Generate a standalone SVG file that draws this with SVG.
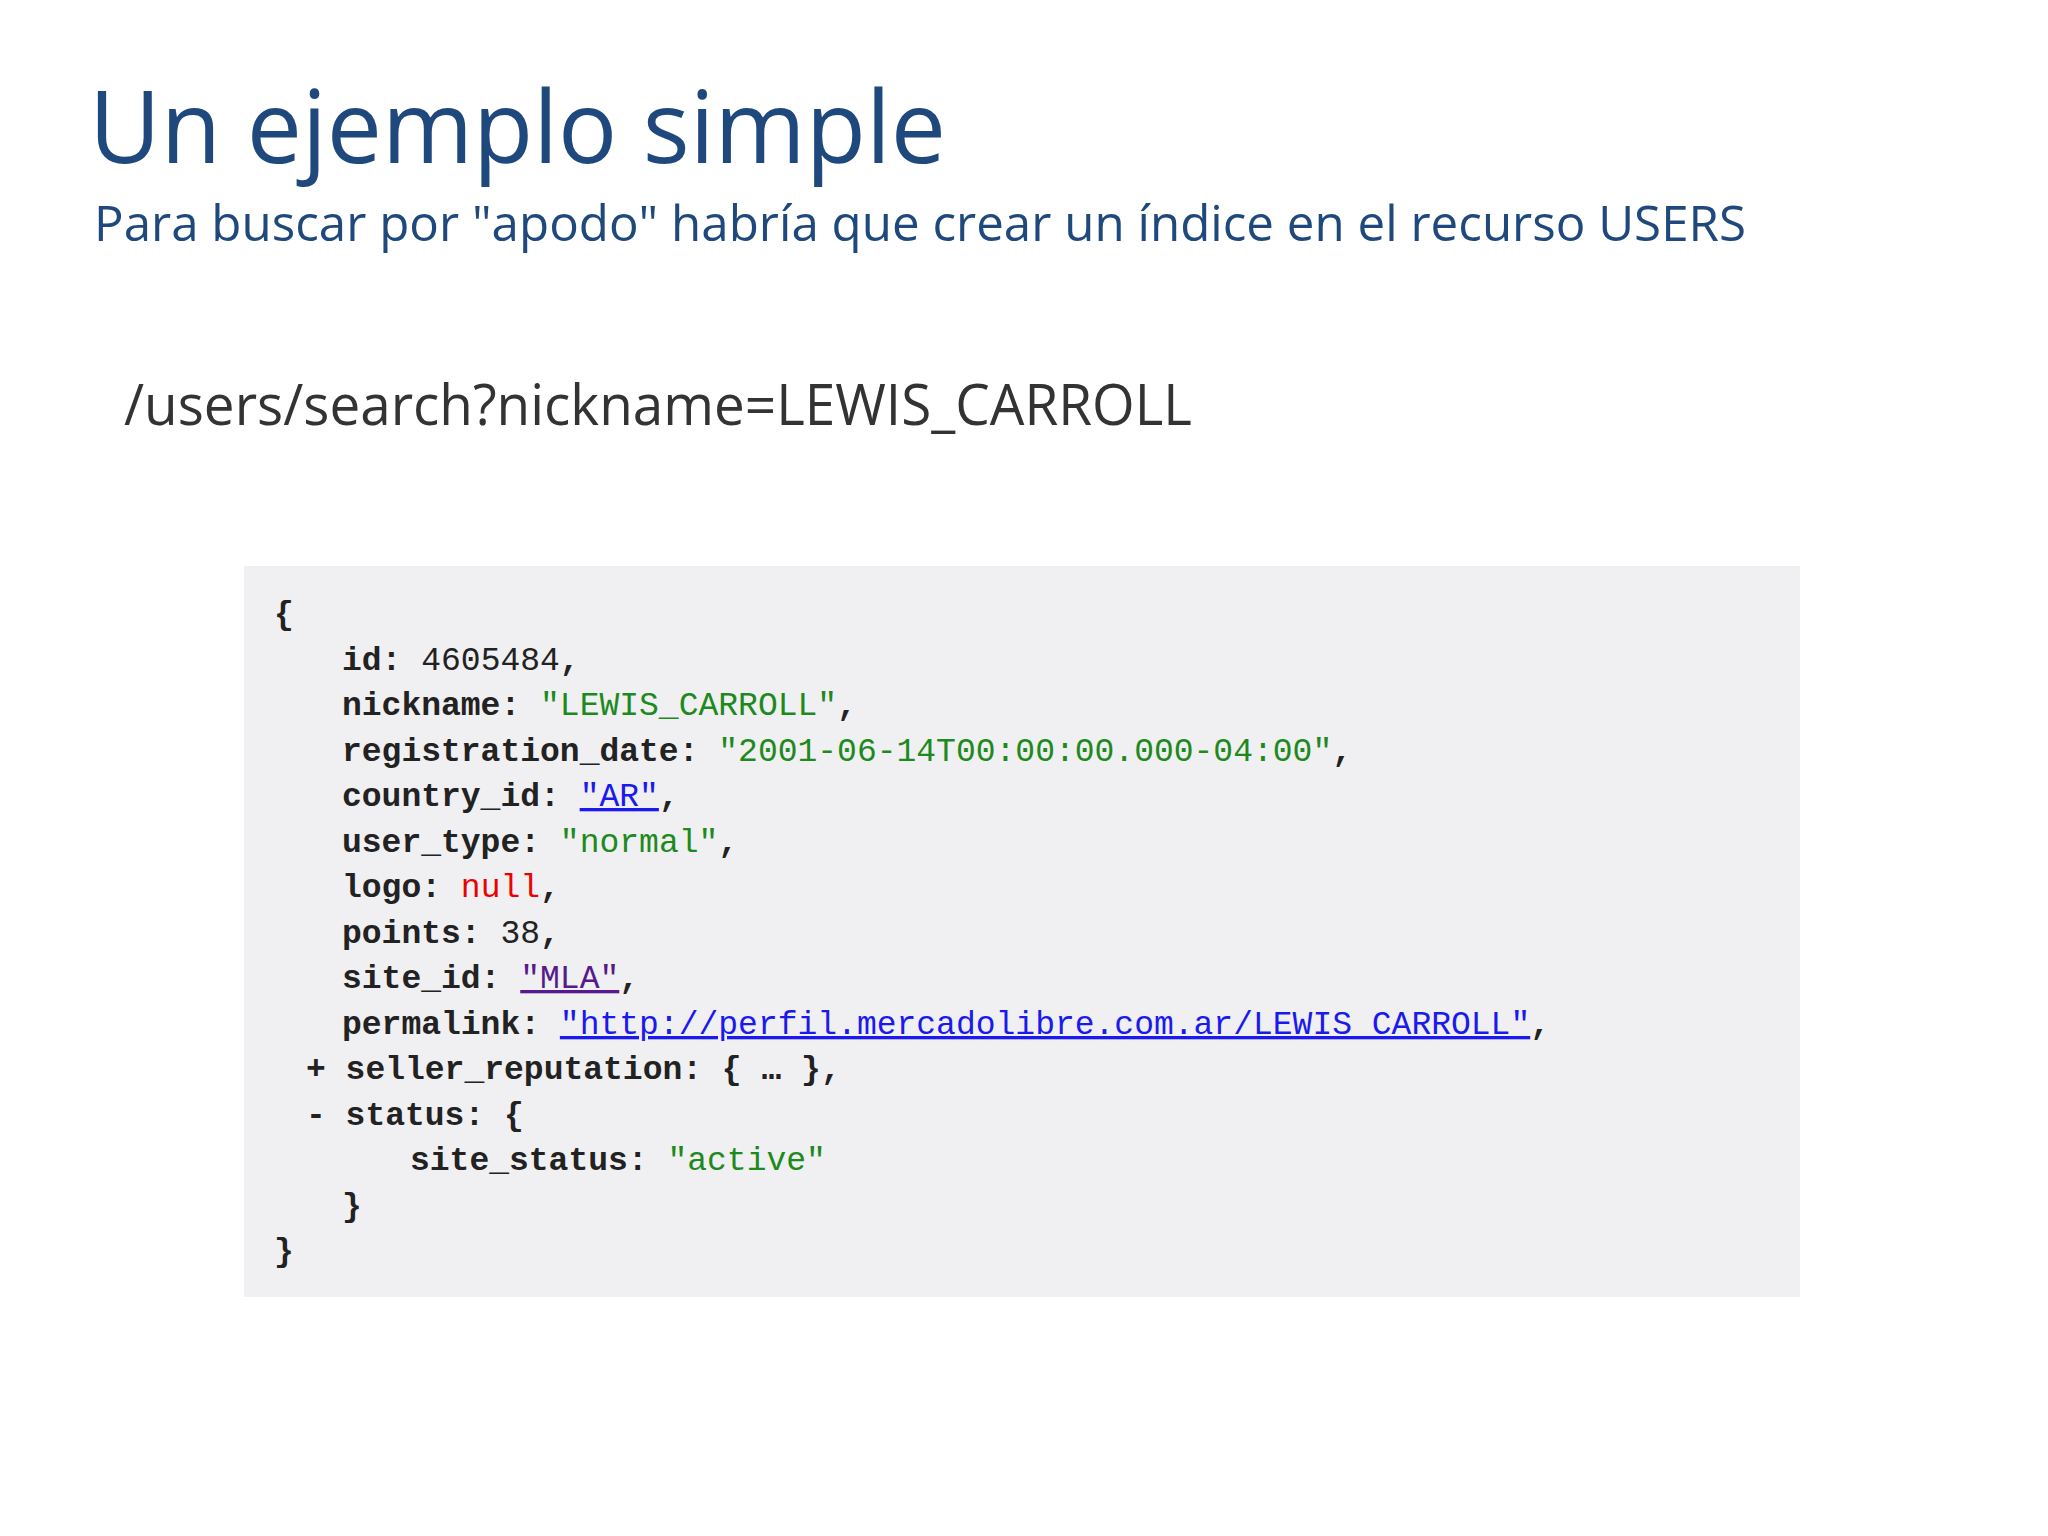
<svg xmlns="http://www.w3.org/2000/svg" width="2048" height="1536" viewBox="0 0 2048 1536">
<style>
.t{font-family:"Open Sans","Liberation Sans",sans-serif;fill:#1f497d}
.c{font-family:"Liberation Mono","DejaVu Sans Mono",monospace;font-size:33px;white-space:pre;fill:#222}
.k{font-weight:bold}
.s{fill:#1c8a1c}
.n{fill:#e00}
.l{fill:#1a1aee;text-decoration:underline}
.v{fill:#551a8b;text-decoration:underline}
</style>
<rect width="2048" height="1536" fill="#fff"/>
<g id="title">
<text class="t" x="89" y="163" font-size="100" textLength="857" lengthAdjust="spacingAndGlyphs">Un ejemplo simple</text>
<text class="t" x="94" y="241" font-size="50" textLength="1652" lengthAdjust="spacingAndGlyphs">Para buscar por "apodo" habría que crear un índice en el recurso USERS</text>
<text class="t" x="124" y="425" font-size="57" fill="#333" style="fill:#333" textLength="1068" lengthAdjust="spacingAndGlyphs">/users/search?nickname=LEWIS_CARROLL</text>
</g>
<g id="code">
<rect x="244" y="566" width="1556" height="731" fill="#f0eff1"/>
<text class="c">
<tspan x="274" y="624" class="k">{</tspan>
<tspan x="342" y="670"><tspan class="k">id:</tspan> 4605484<tspan class="k">,</tspan></tspan>
<tspan x="342" y="715"><tspan class="k">nickname:</tspan> <tspan class="s">"LEWIS_CARROLL"</tspan><tspan class="k">,</tspan></tspan>
<tspan x="342" y="761"><tspan class="k">registration_date:</tspan> <tspan class="s">"2001-06-14T00:00:00.000-04:00"</tspan><tspan class="k">,</tspan></tspan>
<tspan x="342" y="806"><tspan class="k">country_id:</tspan> <tspan class="l">"AR"</tspan><tspan class="k">,</tspan></tspan>
<tspan x="342" y="852"><tspan class="k">user_type:</tspan> <tspan class="s">"normal"</tspan><tspan class="k">,</tspan></tspan>
<tspan x="342" y="897"><tspan class="k">logo:</tspan> <tspan class="n">null</tspan><tspan class="k">,</tspan></tspan>
<tspan x="342" y="943"><tspan class="k">points:</tspan> 38<tspan class="k">,</tspan></tspan>
<tspan x="342" y="988"><tspan class="k">site_id:</tspan> <tspan class="v">"MLA"</tspan><tspan class="k">,</tspan></tspan>
<tspan x="342" y="1034"><tspan class="k">permalink:</tspan> <tspan class="l">"http://perfil.mercadolibre.com.ar/LEWIS_CARROLL"</tspan><tspan class="k">,</tspan></tspan>
<tspan x="306" y="1079" class="k">+ seller_reputation: { … },</tspan>
<tspan x="306" y="1125" class="k">- status: {</tspan>
<tspan x="410" y="1170"><tspan class="k">site_status:</tspan> <tspan class="s">"active"</tspan></tspan>
<tspan x="342" y="1216" class="k">}</tspan>
<tspan x="274" y="1261" class="k">}</tspan>
</text>
</g>
</svg>
